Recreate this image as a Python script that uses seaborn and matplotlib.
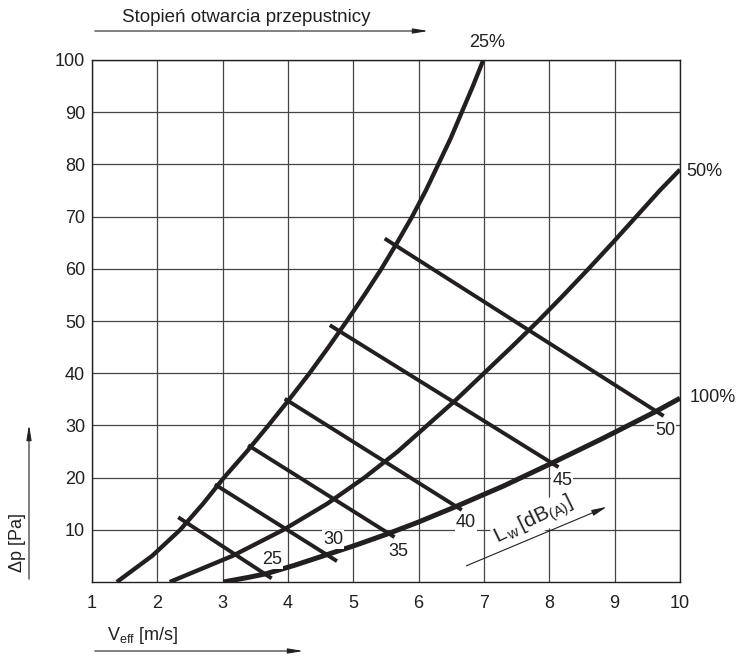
import matplotlib
matplotlib.use("Agg")
import matplotlib.pyplot as plt
import matplotlib.patches as mpatches
import seaborn as sns
import pandas as pd

# ---- data ----
curve_25_x = [1.38, 1.92, 2.35, 2.70, 3.02, 3.37, 3.70, 4.02, 4.33, 4.62, 4.90, 5.17, 5.43,
              5.67, 5.90, 6.11, 6.30, 6.49, 6.66, 6.83, 6.99]
curve_25_y = [0, 5, 10, 15, 20, 25, 30, 35, 40, 45, 50, 55, 60, 65, 70, 75, 80, 85, 90, 95, 100]
curve_50_x = [2.19, 3.15, 3.93, 4.60, 5.17, 5.68, 6.13, 6.58, 7.00, 7.42, 7.83, 8.22, 8.60,
              8.97, 9.33, 9.69, 10.0]
curve_50_y = [0, 5, 10, 15, 20, 25, 30, 35, 40, 45, 50, 55, 60, 65, 70, 75, 79]
curve_100_x = [3.01, 3.40, 3.67, 4.10, 4.61, 5.00, 5.52, 6.00, 6.56, 7.30, 8.01, 8.80, 9.62, 10.0]
curve_100_y = [0, 0.9, 1.6, 3.2, 5.3, 6.9, 9.2, 11.5, 14.4, 18.4, 22.6, 27.4, 32.6, 35.2]
curve_names = ["25%", "50%", "100%"]
curve_label_pos = [(7.05, 103.3), (10.38, 78.7), (10.50, 35.4)]

lw_levels = [25, 30, 35, 40, 45, 50]
lw_x0 = [2.32, 2.88, 3.39, 3.95, 4.64, 5.48]
lw_y0 = [12.4, 18.7, 26.2, 35.1, 49.2, 65.8]
lw_x1 = [3.75, 4.75, 5.63, 6.66, 8.14, 9.75]
lw_y1 = [0.7, 4.0, 8.6, 13.8, 22.0, 31.8]
lw_label_x = [3.75, 4.69, 5.69, 6.72, 8.2, 9.77]
lw_label_y = [4.4, 8.2, 5.8, 11.4, 19.5, 29.0]

x_ticks = [1, 2, 3, 4, 5, 6, 7, 8, 9, 10]
y_ticks = [10, 20, 30, 40, 50, 60, 70, 80, 90, 100]

# ---- style ----
sns.set_style("white")
plt.rcParams["font.family"] = ["Liberation Sans", "DejaVu Sans"]
plt.rcParams["mathtext.fontset"] = "custom"
plt.rcParams["mathtext.rm"] = "Liberation Sans"
plt.rcParams["mathtext.it"] = "Liberation Sans"

fig = plt.figure(figsize=(7.37, 6.56), dpi=100)
ax = fig.add_axes([92 / 737, 1 - 582 / 656, 588 / 737, 522 / 656])

ink = "#231f20"

curves = [
    (curve_25_x, curve_25_y, 3.1),
    (curve_50_x, curve_50_y, 3.1),
    (curve_100_x, curve_100_y, 3.6),
]
for (cx, cy, lw), name in zip(curves, curve_names):
    df = pd.DataFrame({"v": cx, "dp": cy})
    sns.lineplot(data=df, x="v", y="dp", sort=False, color=ink, linewidth=lw,
                 ax=ax, zorder=4, solid_capstyle="butt", solid_joinstyle="round")

for i, lev in enumerate(lw_levels):
    df = pd.DataFrame({"v": [lw_x0[i], lw_x1[i]], "dp": [lw_y0[i], lw_y1[i]]})
    sns.lineplot(data=df, x="v", y="dp", sort=False, color=ink, linewidth=2.8,
                 ax=ax, zorder=4, solid_capstyle="butt")
    ax.text(lw_label_x[i], lw_label_y[i], str(lev), ha="center", va="center",
            fontsize=13, color=ink, zorder=5,
            bbox=dict(boxstyle="square,pad=0.06", fc="white", ec="none"))

for name, (px, py) in zip(curve_names, curve_label_pos):
    ax.text(px, py, name, ha="center", va="center", fontsize=13, color=ink,
            clip_on=False)

# Lw label and arrow
ax.text(7.77, 11.8, r"$\mathregular{L_{\,w}\,[dB_{(A)}]}$", rotation=26,
        rotation_mode="anchor", ha="center", va="center", fontsize=15, color=ink,
        zorder=5, bbox=dict(boxstyle="square,pad=0.05", fc="white", ec="none"))
ax.annotate("", xy=(8.88, 14.4), xytext=(6.73, 3.1),
            arrowprops=dict(arrowstyle="-|>,head_width=0.18,head_length=0.9",
                            color=ink, lw=0.8, shrinkA=0, shrinkB=0), zorder=5)

ax.set_xlim(1, 10)
ax.set_ylim(0, 100)
ax.set_xticks(x_ticks)
ax.set_yticks(y_ticks)
ax.set_xticklabels([str(t) for t in x_ticks])
ax.set_yticklabels([str(t) for t in y_ticks])
ax.tick_params(axis="both", length=0, labelsize=13, colors=ink)
ax.tick_params(axis="x", pad=9)
ax.tick_params(axis="y", pad=5)
ax.grid(True, color="#444444", linewidth=0.9)
ax.set_axisbelow(True)
ax.set_xlabel("")
ax.set_ylabel("")
for s in ax.spines.values():
    s.set_color(ink)
    s.set_linewidth(1.0)

# outer annotations (figure pixel coordinates)
W, H = 737, 656
def fx(p):
    return p / W
def fy(p):
    return 1 - p / H

def fig_arrow(p0, p1):
    fig.add_artist(mpatches.FancyArrowPatch(
        (fx(p0[0]), fy(p0[1])), (fx(p1[0]), fy(p1[1])), transform=fig.transFigure,
        arrowstyle="-|>,head_width=0.15,head_length=0.9", color=ink, lw=0.8,
        mutation_scale=10))

fig.text(fx(122), fy(18), "Stopień otwarcia przepustnicy", ha="left", va="center",
         fontsize=13.5, color=ink)
fig_arrow((92, 31), (431, 31))

fig.text(fx(17), fy(543), r"$\mathregular{\Delta p\ [Pa]}$", rotation=90,
         ha="center", va="center", fontsize=13, color=ink)
fig_arrow((29, 582), (29, 422))

fig.text(fx(107), fy(636), r"$\mathregular{V_{eff}\ [m/s]}$", ha="left",
         va="center", fontsize=13, color=ink)
fig_arrow((92, 651), (306, 651))

fig.savefig("out.png", dpi=100, facecolor="white")
